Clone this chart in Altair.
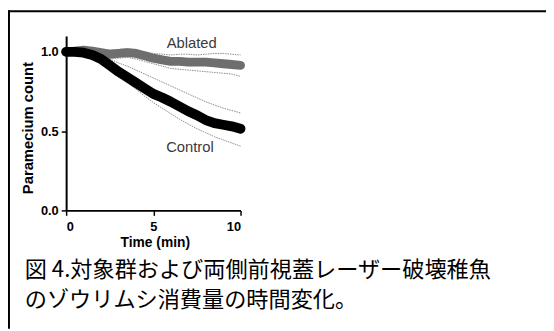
import altair as alt
import pandas as pd

# ---- data ----
time = [0, 0.5, 1, 1.5, 2, 2.5, 3, 3.5, 4, 4.5, 5, 5.5, 6, 6.5, 7, 7.5, 8, 8.5, 9, 9.5, 10]

control_mean = [1.0, 1.0, 0.995, 0.98, 0.955, 0.915, 0.875, 0.84, 0.805, 0.77, 0.735,
                0.712, 0.685, 0.655, 0.625, 0.6, 0.57, 0.55, 0.54, 0.53, 0.515]
control_upper = [1.0, 1.0, 1.0, 0.995, 0.98, 0.955, 0.93, 0.91, 0.885, 0.86, 0.835,
                 0.81, 0.785, 0.76, 0.735, 0.71, 0.685, 0.665, 0.645, 0.63, 0.615]
control_lower = [1.0, 0.995, 0.985, 0.96, 0.93, 0.885, 0.84, 0.805, 0.765, 0.72, 0.68,
                 0.645, 0.61, 0.575, 0.545, 0.515, 0.49, 0.465, 0.445, 0.425, 0.405]

ablated_mean = [1.0, 1.005, 1.01, 1.005, 0.995, 0.985, 0.99, 0.995, 0.99, 0.975, 0.96,
                0.95, 0.94, 0.94, 0.935, 0.935, 0.935, 0.93, 0.925, 0.92, 0.915]
ablated_upper = [1.0, 1.01, 1.02, 1.02, 1.015, 1.01, 1.015, 1.02, 1.015, 1.0, 0.99,
                 0.985, 0.98, 0.985, 0.985, 0.98, 0.985, 0.99, 0.99, 0.985, 0.98]
ablated_lower = [1.0, 1.0, 0.995, 0.985, 0.97, 0.96, 0.96, 0.965, 0.955, 0.94, 0.925,
                 0.91, 0.895, 0.89, 0.885, 0.88, 0.875, 0.87, 0.865, 0.86, 0.845]

x_ticks = [0, 5, 10]
y_ticks = [0.0, 0.5, 1.0]

series_labels = ["Ablated", "Control"]
label_time = [7.2, 7.1]
label_count = [1.056, 0.40]

x_title = "Time (min)"
y_title = "Paramecium count"
caption_lines = ["図 4.対象群および両側前視蓋レーザー破壊稚魚", "のゾウリムシ消費量の時間変化。"]

# ---- tables ----
rows = []
for name, vals in [("control_mean", control_mean), ("control_upper", control_upper),
                   ("control_lower", control_lower), ("ablated_mean", ablated_mean),
                   ("ablated_upper", ablated_upper), ("ablated_lower", ablated_lower)]:
    for t, v in zip(time, vals):
        rows.append({"time": t, "count": v, "series": name})
df = pd.DataFrame(rows)

labels_df = pd.DataFrame({"time": label_time, "count": label_count, "label": series_labels})

FONT = "Liberation Sans"

x_enc = alt.X("time:Q", scale=alt.Scale(domain=[0, 10], nice=False),
              axis=alt.Axis(values=x_ticks, title=x_title, titleX=90, titleY=33,
                            titleBaseline="middle", titleAlign="center", labelPadding=5))
y_enc = alt.Y("count:Q", scale=alt.Scale(domain=[0, 1.1], nice=False),
              axis=alt.Axis(values=y_ticks, format=".1f", title=y_title, titleX=-39.5,
                            titleY=93, titleAngle=-90, titleBaseline="middle",
                            titleAlign="center", labelPadding=3, titleFontSize=15))

base = alt.Chart(df).encode(x=x_enc, y=y_enc, detail="series:N")

ci = base.mark_line(color="#8a8a8a", strokeWidth=1, strokeDash=[1.5, 1]).transform_filter(
    "indexof(datum.series, 'mean') < 0")
abl = base.mark_line(color="#6e6e6e", strokeWidth=9, strokeCap="round", strokeJoin="round").transform_filter(
    "datum.series == 'ablated_mean'")
ctl = base.mark_line(color="#000000", strokeWidth=10, strokeCap="round", strokeJoin="round").transform_filter(
    "datum.series == 'control_mean'")

lbl = alt.Chart(labels_df).mark_text(font=FONT, fontSize=15, color="#3a3a3a",
                                     baseline="middle", align="center").encode(
    x="time:Q", y="count:Q", text="label:N")

cap1 = alt.Chart(pd.DataFrame({"caption": [caption_lines[0]]})).mark_text(
    font="Noto Sans CJK JP", fontSize=22.5, color="#000000", align="left", baseline="middle"
).encode(x=alt.value(-42), y=alt.value(238), text="caption:N")
cap2 = alt.Chart(pd.DataFrame({"caption": [caption_lines[1]]})).mark_text(
    font="Noto Sans CJK JP", fontSize=22.5, color="#000000", align="left", baseline="middle"
).encode(x=alt.value(-42), y=alt.value(268.5), text="caption:N")

one = alt.Data(values=[{"a": 1}])
border_left = alt.Chart(one).mark_rule(color="#000000", strokeWidth=2).encode(
    x=alt.value(-58), y=alt.value(-26), y2=alt.value(297))
border_top = alt.Chart(one).mark_rule(color="#000000", strokeWidth=2).encode(
    x=alt.value(-59), x2=alt.value(487), y=alt.value(-25))

chart = alt.layer(ci, abl, ctl, lbl, cap1, cap2, border_left, border_top).properties(
    width=177, height=177,
    autosize=alt.AutoSizeParams(type="none"),
    padding={"left": 59, "top": 26, "right": 310, "bottom": 120},
    background="#ffffff",
).configure_view(strokeWidth=0).configure_axis(
    grid=False, domainColor="#000000", domainWidth=2, tickColor="#000000", tickWidth=1.5,
    tickSize=5, labelFont=FONT, labelFontSize=13, labelFontWeight="bold", labelColor="#000000",
    titleFont=FONT, titleFontSize=14, titleFontWeight="bold", titleColor="#000000",
)

chart.save("out.html", embed_options={"renderer": "svg", "actions": False})
